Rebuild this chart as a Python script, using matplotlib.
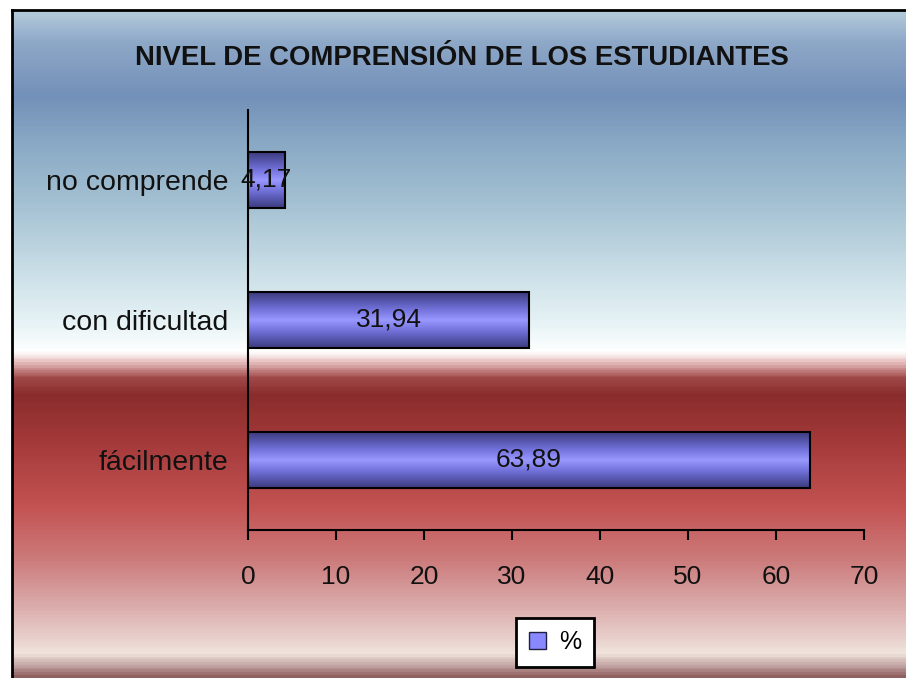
import matplotlib
matplotlib.use("Agg")
import matplotlib.pyplot as plt
import numpy as np
from matplotlib.colors import LinearSegmentedColormap
from matplotlib.lines import Line2D
from matplotlib.patches import Patch

# data
categories = ["fácilmente", "con dificultad", "no comprende"]
percentages = [63.89, 31.94, 4.17]
value_labels = ["63,89", "31,94", "4,17"]
x_ticks = [0, 10, 20, 30, 40, 50, 60, 70]

plt.rcParams["font.family"] = ["Liberation Sans", "DejaVu Sans"]

W, H = 906, 678
fig = plt.figure(figsize=(W / 100, H / 100), dpi=100)
fig.patch.set_facecolor("white")

# chart area background: blue sky fading to white, then dark red fading to pink
top_px = 10
left_px = 12
bg_stops = [
    (10, "#b4cadb"), (40, "#8ea8c8"), (95, "#7390b8"), (140, "#88a8c4"),
    (210, "#a8c4d4"), (275, "#cce0e8"), (325, "#e8f4f6"), (352, "#ffffff"),
    (362, "#e8c0c0"), (378, "#a04848"), (395, "#8a2c2c"), (450, "#a83c3c"),
    (510, "#c45454"), (560, "#cc7a7a"), (600, "#d8a4a4"), (640, "#e8d0cc"),
    (655, "#f0e4dc"), (668, "#c0a0a0"), (678, "#906060"),
]
bg_cmap = LinearSegmentedColormap.from_list(
    "bg", [((p - top_px) / (H - top_px), c) for p, c in bg_stops])
bg = fig.add_axes([left_px / W, 0, 1 - left_px / W, (H - top_px) / H])
bg.imshow(np.linspace(0, 1, 700).reshape(-1, 1), cmap=bg_cmap,
          aspect="auto", extent=[0, 1, 0, 1], origin="upper")
bg.axis("off")

# frame on left and top
fig.add_artist(Line2D([left_px / W, left_px / W], [0, (H - top_px) / H],
                      color="black", lw=2, transform=fig.transFigure))
fig.add_artist(Line2D([left_px / W, 1], [(H - top_px) / H, (H - top_px) / H],
                      color="black", lw=2, transform=fig.transFigure))

fig.text(462 / W, 1 - 58 / H, "NIVEL DE COMPRENSIÓN DE LOS ESTUDIANTES",
         ha="center", va="center", fontsize=19.8, fontweight="bold",
         color="#111111")

ax = fig.add_axes([248 / W, 1 - 530 / H, (864 - 248) / W, (530 - 110) / H])
ax.set_facecolor("none")

bar_h = 0.4
bar_cmap = LinearSegmentedColormap.from_list(
    "bar", [(0, "#3c3c80"), (0.3, "#7070d8"), (0.5, "#9898ff"),
            (0.7, "#7070d8"), (1, "#3c3c80")])
shade = np.linspace(0, 1, 100).reshape(-1, 1)
y_pos = np.arange(len(categories))
for y, v in zip(y_pos, percentages):
    ax.imshow(shade, cmap=bar_cmap, aspect="auto", zorder=2,
              extent=(0, v, y - bar_h / 2, y + bar_h / 2))
ax.barh(y_pos, percentages, height=bar_h, fill=False, edgecolor="black",
        linewidth=1.5, zorder=3)

for y, v, lab in zip(y_pos, percentages, value_labels):
    ax.text(v / 2, y, lab, ha="center", va="center", fontsize=19,
            color="#111111", zorder=4)

ax.set_xlim(0, 70)
ax.set_ylim(-0.5, 2.5)
ax.set_xticks(x_ticks)
ax.set_yticks(y_pos)
ax.set_yticklabels(categories)
for s in ("top", "right"):
    ax.spines[s].set_visible(False)
for s in ("left", "bottom"):
    ax.spines[s].set_linewidth(1.5)
ax.tick_params(axis="x", direction="out", length=7, width=1.5, pad=18,
               labelsize=19, labelcolor="#111111")
ax.tick_params(axis="y", length=0, pad=14, labelsize=20.5,
               labelcolor="#111111")

leg = fig.legend(handles=[Patch(facecolor="#8888ff", edgecolor="#202040",
                                label="%")],
                 loc="center", bbox_to_anchor=(555 / W, 1 - 642 / H),
                 fontsize=18, frameon=True, fancybox=False, framealpha=1,
                 edgecolor="black", handlelength=0.7, handleheight=0.7,
                 handletextpad=0.5, borderpad=0.5, borderaxespad=0)
leg.get_frame().set_linewidth(2)

fig.savefig("out.png", dpi=100)
